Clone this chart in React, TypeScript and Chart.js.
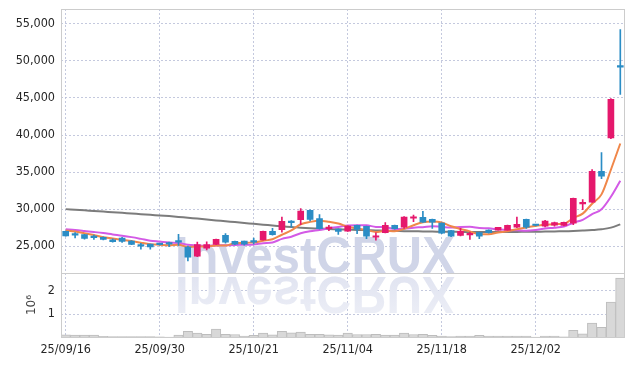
import React, { useEffect, useRef } from 'react';
import { Chart, registerables } from 'chart.js';

Chart.register(...registerables);

const dates = [
  '25/09/16', '25/09/17', '25/09/18', '25/09/19', '25/09/22', '25/09/23', '25/09/24', '25/09/25', '25/09/26', '25/09/29',
  '25/09/30', '25/10/01', '25/10/02', '25/10/10', '25/10/13', '25/10/14', '25/10/15', '25/10/16', '25/10/17', '25/10/20',
  '25/10/21', '25/10/22', '25/10/23', '25/10/24', '25/10/27', '25/10/28', '25/10/29', '25/10/30', '25/10/31', '25/11/03',
  '25/11/04', '25/11/05', '25/11/06', '25/11/07', '25/11/10', '25/11/11', '25/11/12', '25/11/13', '25/11/14', '25/11/17',
  '25/11/18', '25/11/19', '25/11/20', '25/11/21', '25/11/24', '25/11/25', '25/11/26', '25/11/27', '25/11/28', '25/12/01',
  '25/12/02', '25/12/03', '25/12/04', '25/12/05', '25/12/08', '25/12/09', '25/12/10', '25/12/11', '25/12/12', '25/12/15',
];

const opens = [
  27000, 26600, 26550, 26200, 26200, 25870, 26100, 25690, 25050, 25280,
  25250, 25300, 25600, 24870, 23660, 24740, 25240, 26450, 25640, 25690,
  25580, 25860, 26990, 27220, 28390, 28580, 29830, 28710, 27360, 27300,
  27030, 27800, 27670, 26200, 26820, 27800, 27580, 28770, 28880, 28610,
  28120, 27120, 26450, 26530, 26820, 27170, 27170, 27170, 27580, 28610,
  27810, 27710, 27840, 27800, 28120, 30700, 30950, 35100, 39600, 49200,
];
const closes = [
  26400, 26500, 26050, 26150, 25900, 25600, 25640, 25230, 25000, 24900,
  25200, 25270, 25550, 23520, 25200, 25200, 25910, 25550, 25280, 25280,
  25550, 26990, 26550, 28340, 28170, 29740, 28610, 27360, 27580, 26990,
  27710, 27260, 26360, 26240, 27800, 27360, 28930, 28800, 28250, 28250,
  26770, 26360, 27000, 26560, 26360, 26820, 27530, 27800, 27950, 27580,
  27790, 28390, 28170, 28210, 31450, 30740, 35100, 34460, 44830, 49150,
];
const highs = [
  27050, 26820, 26600, 26500, 26250, 26000, 26200, 25750, 25400, 25300,
  25300, 25550, 26600, 25000, 25540, 25600, 25950, 26700, 25700, 25700,
  26100, 27050, 27400, 28930, 28450, 30060, 29900, 29250, 27800, 27350,
  27750, 27850, 27700, 26800, 28200, 27850, 29000, 29200, 29700, 28650,
  28150, 27150, 27400, 26900, 26850, 27200, 27550, 27850, 28930, 28650,
  27850, 28500, 28250, 28250, 31500, 31280, 35330, 37630, 44900, 54240,
];
const lows = [
  26350, 26110, 25950, 25900, 25850, 25550, 25500, 25200, 24600, 24600,
  25150, 24950, 25100, 23000, 23600, 24500, 25200, 25400, 25200, 25150,
  25300, 25800, 26500, 26900, 27580, 27900, 28400, 27300, 27100, 26600,
  27000, 26700, 26000, 25800, 26800, 27300, 27400, 28300, 28200, 27400,
  26700, 26300, 26400, 25900, 26000, 26750, 27150, 27150, 27500, 27400,
  27750, 27600, 27700, 27750, 27900, 29930, 30900, 34110, 39500, 45460,
];
// closes of the 9 sessions before the first visible one (for the moving averages)
const priorCloses = [27500, 27300, 27450, 27350, 27450, 27300, 27200, 27350, 27400];

// long moving average (grey line)
const maLong = [
  30000, 29920, 29840, 29750, 29670, 29580, 29500, 29410, 29320, 29230,
  29150, 29060, 28950, 28830, 28720, 28600, 28480, 28370, 28250, 28130,
  28020, 27900, 27790, 27680, 27580, 27500, 27430, 27370, 27320, 27280,
  27240, 27200, 27160, 27120, 27090, 27060, 27030, 27010, 26990, 26970,
  26950, 26940, 26930, 26920, 26910, 26910, 26910, 26920, 26930, 26940,
  26950, 26970, 26990, 27010, 27050, 27100, 27170, 27280, 27500, 27940,
];

const volumes = [
  110000, 100000, 100000, 100000, 50000, 40000, 40000, 40000, 40000, 40000,
  30000, 20000, 100000, 270000, 190000, 140000, 360000, 140000, 130000, 60000,
  90000, 190000, 110000, 270000, 200000, 230000, 140000, 140000, 110000, 100000,
  190000, 130000, 130000, 140000, 100000, 100000, 190000, 130000, 140000, 90000,
  60000, 40000, 60000, 60000, 90000, 60000, 60000, 60000, 60000, 60000,
  20000, 60000, 60000, 30000, 310000, 160000, 620000, 440000, 1520000, 2550000,
];

const priceTicks = [25000, 30000, 35000, 40000, 45000, 50000, 55000];
const volumeTicks = [1000000, 2000000];

const UP = '#e5186c';
const DOWN = '#2b8dc5';
const GRID = 'rgba(186,191,216,0.85)';
const FRAME = '#cccccc';
const FONT = { family: '"DejaVu Sans Condensed", "DejaVu Sans", sans-serif', size: 12.5 };
const TICK_COLOR = '#262626';

const watermark = {
  id: 'watermark',
  beforeDatasetsDraw(chart: any) {
    const { ctx, chartArea } = chart;
    const sep = chart.scales.y.bottom;
    ctx.save();
    ctx.beginPath();
    ctx.rect(chartArea.left, chartArea.top, chartArea.right - chartArea.left, chartArea.bottom - chartArea.top);
    ctx.clip();
    ctx.font = 'bold 52px "Liberation Sans", Arial, sans-serif';
    ctx.textBaseline = 'alphabetic';
    ctx.save();
    ctx.translate(175, sep);
    ctx.scale(0.94, 1);
    ctx.fillStyle = 'rgb(208,213,232)';
    ctx.fillText('InvestCRUX', 0, 0);
    ctx.restore();
    ctx.save();
    ctx.translate(175, sep + 4);
    ctx.scale(0.94, -1);
    const g = ctx.createLinearGradient(0, 0, 0, -40);
    g.addColorStop(0, 'rgb(225,228,241)');
    g.addColorStop(1, 'rgb(236,238,246)');
    ctx.fillStyle = g;
    ctx.fillText('InvestCRUX', 0, 0);
    ctx.restore();
    ctx.restore();
  },
};

const frame = {
  id: 'frame',
  afterDraw(chart: any) {
    const { ctx, chartArea } = chart;
    const yv = chart.scales.yv;
    ctx.save();
    ctx.strokeStyle = FRAME;
    ctx.lineWidth = 1;
    const l = Math.round(chartArea.left) + 0.5;
    const r = Math.round(chartArea.right) - 0.5;
    const t = Math.round(chartArea.top) + 0.5;
    const b = Math.round(chartArea.bottom) - 0.5;
    ctx.strokeRect(l, t, r - l, b - t);
    const s = Math.round(yv.top) + 0.5;
    ctx.beginPath();
    ctx.moveTo(l, s);
    ctx.lineTo(r, s);
    ctx.stroke();
    ctx.restore();
  },
};

const fitY = (s: any) => {
  s.width = 61;
  s.paddingTop = 0;
  s.paddingBottom = 0;
};

export default function App() {
  const ref = useRef<HTMLCanvasElement>(null);
  useEffect(() => {
    document.body.style.margin = '0';
    const canvas = ref.current!;
    const all = [...priorCloses, ...closes];
    const off = priorCloses.length;
    const ma = (p: number) =>
      closes.map((_, i) => {
        let s = 0;
        for (let k = 0; k < p; k++) s += all[i + off - k];
        return s / p;
      });
    const ma5 = ma(5);
    const ma10 = ma(10);
    const candleColors = closes.map((c, i) => (c >= opens[i] ? UP : DOWN));

    const chart = new Chart(canvas, {
      type: 'bar',
      data: {
        labels: dates,
        datasets: [
          {
            type: 'bar',
            label: 'body',
            data: opens.map((o, i) => [o, closes[i]]) as any,
            backgroundColor: candleColors,
            borderWidth: 0,
            barThickness: 6,
            minBarLength: 1.5,
            grouped: false,
            yAxisID: 'y',
            order: 0,
          } as any,
          {
            type: 'bar',
            label: 'wick',
            data: lows.map((lo, i) => [lo, highs[i]]) as any,
            backgroundColor: candleColors,
            borderWidth: 0,
            barThickness: 1,
            grouped: false,
            yAxisID: 'y',
            order: 1,
          } as any,
          {
            type: 'line',
            label: 'MA5',
            data: ma5,
            borderColor: '#f0874a',
            borderWidth: 2,
            pointRadius: 0,
            tension: 0.4,
            cubicInterpolationMode: 'monotone',
            yAxisID: 'y',
            order: 2,
          } as any,
          {
            type: 'line',
            label: 'MA10',
            data: ma10,
            borderColor: '#d35ae6',
            borderWidth: 2,
            pointRadius: 0,
            tension: 0.4,
            cubicInterpolationMode: 'monotone',
            yAxisID: 'y',
            order: 3,
          } as any,
          {
            type: 'line',
            label: 'MA long',
            data: maLong,
            borderColor: '#7c7c7c',
            borderWidth: 2,
            pointRadius: 0,
            tension: 0.4,
            yAxisID: 'y',
            order: 4,
          } as any,
          {
            type: 'bar',
            label: 'volume',
            data: volumes,
            backgroundColor: '#d8d8d8',
            borderColor: '#bdbdbd',
            borderWidth: { top: 1, left: 1, right: 1, bottom: 0 },
            barPercentage: 1,
            categoryPercentage: 1,
            grouped: false,
            yAxisID: 'yv',
            order: 5,
          } as any,
        ],
      },
      options: {
        responsive: false,
        animation: false,
        layout: { padding: { top: 9, right: 9, bottom: 0, left: 0 } },
        plugins: { legend: { display: false }, tooltip: { enabled: false } },
        scales: {
          x: {
            type: 'category',
            offset: true,
            grid: {
              offset: false,
              drawTicks: false,
              color: (c: any) => (c.index % 10 === 0 ? GRID : 'rgba(0,0,0,0)'),
            },
            border: { display: false, dash: [2, 2] },
            ticks: {
              autoSkip: false,
              maxRotation: 0,
              minRotation: 0,
              padding: 5,
              color: TICK_COLOR,
              font: FONT,
              callback: (_v: any, i: number) => (i % 10 === 0 ? dates[i] : ''),
            },
            afterFit: (s: any) => {
              s.height = 28.5;
              s.paddingLeft = 0;
              s.paddingRight = 0;
            },
          },
          yv: {
            type: 'linear',
            position: 'left',
            stack: 'main',
            stackWeight: 65,
            min: 0,
            max: 2790000,
            afterBuildTicks: (a: any) => {
              a.ticks = volumeTicks.map((v) => ({ value: v }));
            },
            grid: { color: GRID, drawTicks: false },
            border: { display: false, dash: [2, 2] },
            ticks: {
              padding: 6,
              color: TICK_COLOR,
              font: FONT,
              callback: (v: any) => String(Number(v) / 1000000),
            },
            title: {
              display: true,
              text: '10⁶',
              color: '#444',
              font: { family: '"DejaVu Sans", sans-serif', size: 12 },
              padding: { top: 25, bottom: 0 },
            },
            afterFit: fitY,
          },
          y: {
            type: 'linear',
            position: 'left',
            stack: 'main',
            stackWeight: 263.5,
            min: 21450,
            max: 57000,
            afterBuildTicks: (a: any) => {
              a.ticks = priceTicks.map((v) => ({ value: v }));
            },
            grid: { color: GRID, drawTicks: false },
            border: { display: false, dash: [2, 2] },
            ticks: {
              padding: 6,
              color: TICK_COLOR,
              font: FONT,
              callback: (v: any) => Number(v).toLocaleString('en-US'),
            },
            afterFit: fitY,
          },
        },
      } as any,
      plugins: [watermark, frame],
    });
    return () => chart.destroy();
  }, []);
  return (
    <div style={{ width: 634, height: 366 }}>
      <canvas ref={ref} width={634} height={366} style={{ display: 'block' }} />
    </div>
  );
}
